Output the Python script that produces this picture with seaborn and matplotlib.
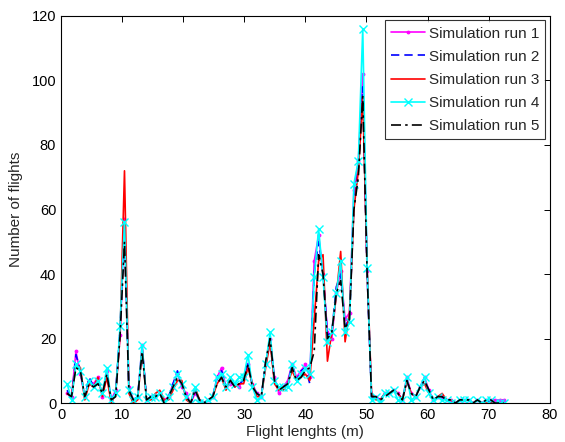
import numpy as np
import pandas as pd
import matplotlib
matplotlib.use("Agg")
import matplotlib.pyplot as plt
import seaborn as sns

# bin centres of the flight length histogram (m)
lengths = np.linspace(1.0, 72.5, 100)

run1 = [3, 2, 16, 9, 2, 7, 6, 8, 2, 10,
        1, 4, 21, 57, 5, 1, 2, 18, 1, 2,
        2, 3, 1, 2, 6, 9, 5, 3, 0, 3,
        1, 0, 1, 2, 8, 11, 5, 6, 6, 5,
        8, 12, 6, 3, 2, 12, 20, 8, 3, 5,
        7, 12, 8, 10, 12, 8, 44, 52, 40, 22,
        20, 34, 41, 26, 28, 66, 75, 102, 41, 2,
        2, 1, 3, 3, 4, 3, 1, 8, 3, 2,
        5, 8, 4, 1, 2, 2, 1, 1, 0, 1,
        1, 1, 0, 1, 0, 1, 1, 1, 1, 1]

run2 = [4, 1, 15, 10, 2, 8, 5, 7, 3, 9,
        1, 3, 23, 55, 4, 1, 2, 17, 2, 2,
        2, 3, 0, 2, 6, 10, 6, 2, 0, 4,
        1, 0, 1, 2, 8, 10, 5, 7, 5, 6,
        7, 13, 5, 3, 2, 12, 19, 7, 4, 5,
        6, 12, 7, 10, 11, 6, 40, 50, 41, 21,
        22, 36, 40, 24, 26, 62, 73, 98, 40, 2,
        2, 1, 3, 3, 4, 3, 1, 7, 3, 2,
        5, 7, 4, 1, 2, 2, 1, 1, 0, 1,
        1, 1, 0, 1, 0, 1, 0, 0, 0, 0]

run3 = [3, 2, 12, 11, 1, 6, 5, 8, 2, 8,
        0, 3, 21, 72, 3, 0, 1, 17, 1, 1,
        3, 4, 1, 1, 4, 7, 7, 1, 0, 5,
        1, 0, 1, 2, 6, 8, 4, 8, 5, 6,
        6, 11, 6, 2, 2, 11, 19, 6, 4, 4,
        6, 10, 7, 8, 9, 7, 26, 44, 46, 13,
        22, 33, 47, 19, 28, 60, 72, 95, 42, 3,
        1, 1, 3, 3, 4, 3, 1, 7, 3, 2,
        5, 6, 3, 1, 2, 3, 1, 1, 0, 1,
        1, 1, 0, 1, 0, 0, 0, 0, 0, 0]

run4 = [6, 1, 12, 10, 2, 7, 5, 7, 3, 11,
        1, 3, 24, 56, 4, 1, 2, 18, 1, 2,
        2, 3, 0, 2, 5, 9, 6, 2, 0, 5,
        0, 0, 1, 2, 8, 9, 5, 8, 6, 8,
        8, 15, 5, 1, 2, 12, 22, 7, 5, 5,
        5, 12, 7, 9, 11, 9, 39, 54, 39, 19,
        22, 34, 44, 22, 25, 68, 75, 116, 42, 1,
        2, 0, 3, 3, 4, 1, 1, 8, 1, 2,
        5, 8, 3, 1, 2, 1, 1, 0, 0, 1,
        1, 1, 0, 1, 0, 1, 1, 0, 0, 0]

run5 = [3, 2, 11, 10, 2, 6, 5, 6, 3, 9,
        1, 2, 21, 50, 4, 1, 2, 16, 1, 2,
        2, 3, 0, 2, 5, 8, 6, 2, 0, 4,
        1, 0, 1, 2, 6, 8, 5, 7, 5, 6,
        7, 12, 5, 3, 2, 13, 20, 7, 4, 5,
        6, 11, 7, 8, 10, 11, 16, 46, 40, 20,
        22, 34, 38, 23, 26, 60, 70, 95, 40, 2,
        2, 1, 2, 3, 4, 3, 1, 7, 3, 2,
        5, 7, 4, 1, 2, 2, 1, 1, 0, 1,
        1, 1, 0, 1, 0, 1, 1, 0, 0, 0]

labels = ["Simulation run 1", "Simulation run 2", "Simulation run 3",
          "Simulation run 4", "Simulation run 5"]
runs = [run1, run2, run3, run4, run5]
colors = ["#ff00ff", "#0000ff", "#ff0000", "#00ffff", "#000000"]

sns.set_style("white")
plt.rcParams["font.family"] = ["Liberation Sans", "DejaVu Sans"]

fig = plt.figure(figsize=(5.65, 4.42), dpi=100)
ax = fig.add_axes([0.108, 0.088, 0.865, 0.876])

for vals, lab, c in zip(runs, labels, colors):
    sns.lineplot(x=lengths, y=vals, ax=ax, label=lab, color=c, linewidth=1.2)

# matlab-ish line styles / markers
lines = ax.get_lines()
for ln, c in zip(lines, colors):
    ln.set_markeredgecolor(c)
    ln.set_markerfacecolor(c)
lines[0].set_marker(".")
lines[0].set_markersize(4)
lines[1].set_dashes([5, 3])
lines[3].set_marker("x")
lines[3].set_markersize(6)
lines[3].set_markeredgewidth(1.0)
lines[4].set_dashes([6, 2.5, 1.5, 2.5])

ax.set_xlim(0, 80)
ax.set_ylim(0, 120)
ax.set_xticks(range(0, 81, 10))
ax.set_yticks(range(0, 121, 20))
ax.tick_params(direction="in", length=4, width=0.7, labelsize=10.5,
               top=True, right=True, colors="black")
for sp in ax.spines.values():
    sp.set_visible(True)
    sp.set_color("black")
    sp.set_linewidth(0.8)

ax.set_xlabel("Flight lenghts (m)", fontsize=11, labelpad=2)
ax.set_ylabel("Number of flights", fontsize=11, labelpad=6)

ax.legend_.remove()
leg = ax.legend(lines, labels, loc="upper right", fontsize=11, frameon=True,
                fancybox=False, edgecolor="black", handlelength=2.2,
                handletextpad=0.25, borderaxespad=0.3, labelspacing=0.6,
                borderpad=0.4)
leg.get_frame().set_linewidth(0.8)

fig.savefig("out.png", dpi=100, facecolor="white")
